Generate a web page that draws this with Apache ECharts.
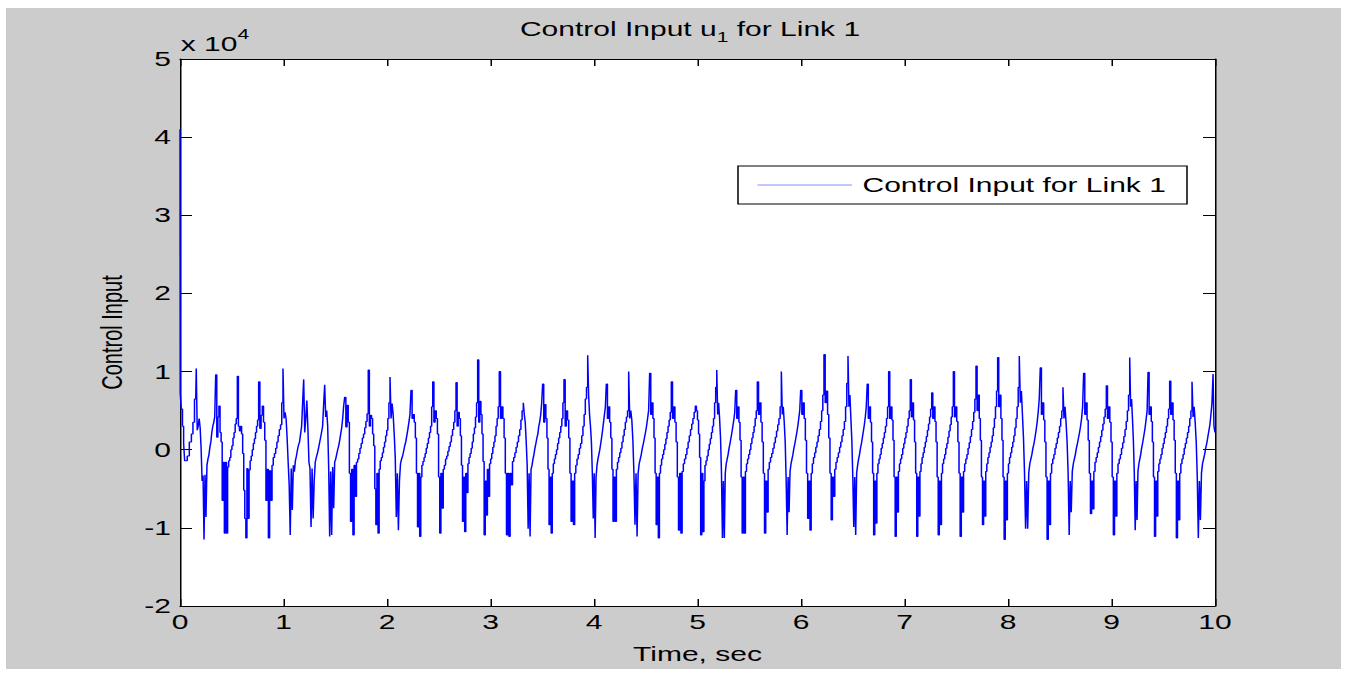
<!DOCTYPE html>
<html>
<head>
<meta charset="utf-8">
<script src="https://cdn.jsdelivr.net/npm/echarts@6/dist/echarts.min.js"></script>
<style>
  html, body { margin: 0; padding: 0; background: #fff; width: 1347px; height: 675px; overflow: hidden; }
  #frame { position: absolute; left: 6px; top: 8px; width: 1335px; height: 661px; background: #cccccc; }
  #chart { position: absolute; left: 0; top: 0; width: 898px; height: 675px; transform: scaleX(1.5); transform-origin: 0 0; }
</style>
</head>
<body>
<div id="frame"></div>
<div id="chart"></div>
<script>
// Control input u1 (units of 1e4) for link 1 over a 10 s run.
const xTickLabels = ['0', '1', '2', '3', '4', '5', '6', '7', '8', '9', '10'];
const yTickLabels = ['-2', '-1', '0', '1', '2', '3', '4', '5'];

// start-up transient before the first periodic spike
const headTimes  = [0, 0.002, 0.012, 0.024, 0.035, 0.045, 0.07, 0.09, 0.11, 0.125, 0.14, 0.152];
const headValues = [4.1, 0.73, 0.52, 0.30, 0.08, -0.14, -0.08, 0.10, 0.20, 0.35, 0.65, 0.65];

// time of the main positive spike opening each cycle (s)
const spikeTimes = [0.157, 0.345, 0.554, 0.760, 0.995, 1.195, 1.398, 1.591, 1.819, 2.029,
  2.232, 2.442, 2.667, 2.876, 3.085, 3.317, 3.504, 3.710, 3.939, 4.119,
  4.335, 4.538, 4.747, 4.979, 5.186, 5.369, 5.578, 5.810, 5.997, 6.222,
  6.454, 6.640, 6.847, 7.056, 7.263, 7.472, 7.691, 7.900, 8.109, 8.312,
  8.531, 8.731, 8.950, 9.176, 9.353, 9.562, 9.778, 9.981];

// held samples through each cycle, evenly spaced between consecutive spikes
const cycleRows = [
  [1.04,0.25,0.30,0.40,0.28,0.02,-0.40,-0.33,-1.15,-0.32,-0.86,-0.20,-0.12,-0.07,0.03,0.10,0.22,0.30,0.35,0.42],
  [0.96,0.16,0.42,0.56,0.22,0.10,-0.65,-0.16,-1.07,-0.16,-1.07,-0.22,-0.14,-0.10,0.00,0.05,0.15,0.22,0.33,0.40],
  [0.94,0.30,0.24,0.30,0.20,-0.05,-0.52,-0.88,-1.13,-0.24,-0.88,-0.26,-0.14,-0.08,0.00,0.08,0.14,0.22,0.30,0.38],
  [0.87,0.27,0.44,0.56,0.35,0.12,-0.65,-0.25,-1.13,-0.27,-0.65,-0.20,-0.10,-0.05,0.02,0.10,0.18,0.26,0.32,0.60],
  [1.04,0.40,0.48,0.40,0.15,-0.16,-0.45,-1.09,-0.24,-0.77,-0.20,-0.28,-0.14,-0.08,0.00,0.06,0.10,0.20,0.30,0.60],
  [0.90,0.22,0.40,0.63,0.28,-0.16,-0.24,-0.99,-0.24,-0.88,-0.40,-0.16,-0.10,-0.05,0.01,0.08,0.15,0.22,0.30,0.58],
  [0.83,0.42,0.50,0.30,-0.24,-1.11,-0.28,-1.09,-0.22,-0.75,-0.16,-0.12,-0.06,0.00,0.05,0.12,0.20,0.28,0.40,0.56],
  [0.67,0.29,0.57,0.35,-0.30,-0.92,-0.25,-1.09,-0.20,-0.60,-0.16,-0.12,-0.05,0.02,0.08,0.15,0.20,0.28,0.36,0.46],
  [1.02,0.30,0.44,0.40,0.20,0.05,-0.50,-0.96,-0.30,-1.07,-0.25,-0.14,-0.10,-0.04,0.03,0.10,0.18,0.25,0.40,0.60],
  [0.93,0.40,0.59,0.45,0.20,-0.10,-0.86,-0.30,-1.03,-0.40,-0.18,-0.12,-0.08,-0.02,0.05,0.10,0.18,0.26,0.35,0.45],
  [0.76,0.40,0.45,0.35,0.15,-0.30,-0.99,-0.30,-1.11,-0.35,-0.20,-0.15,-0.10,-0.05,0.02,0.08,0.15,0.22,0.30,0.55],
  [0.87,0.35,0.50,0.40,0.20,-0.35,-1.07,-0.30,-0.75,-0.25,-0.20,-0.12,-0.08,-0.02,0.04,0.10,0.18,0.26,0.35,0.50],
  [0.86,0.30,0.48,0.40,0.18,-0.20,-0.92,-0.35,-1.05,-0.30,-0.55,-0.18,-0.10,-0.05,0.02,0.10,0.20,0.28,0.42,0.60],
  [1.15,0.35,0.62,0.45,0.20,-0.15,-1.09,-0.40,-0.84,-0.25,-0.60,-0.18,-0.12,-0.05,0.03,0.10,0.18,0.30,0.40,0.55],
  [1.00,0.40,0.55,0.40,0.15,-0.30,-1.09,-0.30,-1.11,-0.30,-0.45,-0.15,-0.10,-0.04,0.03,0.10,0.18,0.26,0.38,0.50],
  [0.60,0.45,0.35,0.10,-0.20,-1.01,-0.30,-1.11,-0.25,-0.20,-0.12,-0.06,0.02,0.08,0.15,0.20,0.30,0.36,0.45,0.60],
  [0.84,0.35,0.58,0.40,0.15,-0.25,-0.96,-0.35,-1.07,-0.30,-0.18,-0.12,-0.06,0.00,0.08,0.15,0.22,0.30,0.40,0.60],
  [0.90,0.30,0.50,0.38,0.15,-0.30,-0.92,-0.40,-0.96,-0.30,-0.20,-0.12,-0.06,0.02,0.08,0.18,0.30,0.45,0.65,0.80],
  [1.21,0.70,0.45,0.30,0.10,-0.30,-0.88,-0.30,-1.13,-0.35,-0.20,-0.12,-0.06,0.00,0.08,0.16,0.25,0.35,0.45,0.55],
  [0.84,0.40,0.55,0.35,0.15,-0.25,-0.92,-0.35,-0.92,-0.25,-0.16,-0.10,-0.04,0.02,0.10,0.18,0.26,0.35,0.42,0.50],
  [1.00,0.40,0.50,0.38,0.12,-0.30,-0.96,-0.30,-1.11,-0.30,-0.18,-0.12,-0.06,0.02,0.08,0.15,0.22,0.30,0.40,0.50],
  [0.98,0.45,0.60,0.40,0.15,-0.30,-0.96,-0.35,-1.13,-0.30,-0.20,-0.12,-0.06,0.00,0.07,0.14,0.22,0.30,0.38,0.48],
  [0.87,0.40,0.55,0.35,0.10,-0.35,-1.03,-0.30,-1.07,-0.28,-0.18,-0.12,-0.06,0.02,0.10,0.18,0.26,0.33,0.40,0.48],
  [0.56,0.50,0.38,0.20,-0.10,-1.09,-0.30,-1.05,-0.40,-0.20,-0.14,-0.08,0.00,0.07,0.14,0.22,0.30,0.40,0.60,0.80],
  [1.02,0.45,0.60,0.40,0.15,-0.30,-1.13,-0.40,-1.13,-0.30,-0.18,-0.12,-0.06,0.02,0.08,0.15,0.22,0.30,0.38,0.48],
  [0.76,0.40,0.55,0.35,0.12,-0.35,-1.07,-0.35,-1.07,-0.28,-0.18,-0.12,-0.06,0.00,0.08,0.15,0.22,0.30,0.40,0.50],
  [0.87,0.45,0.60,0.35,0.10,-0.30,-1.07,-0.40,-0.80,-0.25,-0.16,-0.10,-0.05,0.02,0.09,0.16,0.24,0.32,0.40,0.55],
  [1.00,0.45,0.55,0.35,0.10,-0.40,-1.09,-0.35,-0.80,-0.28,-0.18,-0.12,-0.06,0.02,0.08,0.15,0.22,0.30,0.40,0.50],
  [0.76,0.45,0.60,0.40,0.12,-0.30,-0.88,-0.40,-1.03,-0.30,-0.18,-0.10,-0.04,0.03,0.10,0.18,0.26,0.36,0.50,0.70],
  [1.22,0.60,0.75,0.45,0.15,-0.30,-0.90,-0.35,-0.60,-0.25,-0.16,-0.10,-0.04,0.03,0.10,0.18,0.26,0.36,0.55,0.85],
  [1.20,0.55,0.70,0.40,0.12,-0.35,-0.99,-0.35,-1.09,-0.30,-0.20,-0.12,-0.06,0.02,0.08,0.16,0.24,0.32,0.42,0.55],
  [0.84,0.40,0.55,0.35,0.10,-0.30,-1.09,-0.40,-0.94,-0.30,-0.18,-0.12,-0.06,0.02,0.08,0.15,0.22,0.30,0.40,0.55],
  [1.00,0.40,0.55,0.38,0.12,-0.35,-1.11,-0.35,-0.80,-0.28,-0.18,-0.12,-0.06,0.02,0.08,0.15,0.22,0.30,0.40,0.50],
  [0.90,0.42,0.60,0.38,0.10,-0.30,-1.11,-0.35,-0.85,-0.28,-0.18,-0.10,-0.04,0.03,0.10,0.17,0.25,0.33,0.42,0.52],
  [0.73,0.40,0.55,0.36,0.10,-0.35,-1.09,-0.40,-0.96,-0.30,-0.18,-0.12,-0.06,0.02,0.08,0.16,0.24,0.32,0.42,0.55],
  [1.00,0.42,0.55,0.36,0.10,-0.30,-1.11,-0.35,-0.80,-0.28,-0.18,-0.12,-0.06,0.02,0.09,0.17,0.26,0.36,0.48,0.65],
  [1.07,0.50,0.70,0.40,0.12,-0.35,-0.96,-0.40,-0.85,-0.28,-0.18,-0.10,-0.04,0.03,0.10,0.18,0.28,0.40,0.55,0.75],
  [1.18,0.55,0.70,0.40,0.12,-0.35,-1.15,-0.40,-0.90,-0.30,-0.18,-0.10,-0.04,0.03,0.10,0.18,0.28,0.40,0.55,0.80],
  [1.20,0.60,0.75,0.45,0.15,-0.30,-1.01,-0.40,-1.01,-0.30,-0.18,-0.12,-0.06,0.02,0.08,0.16,0.25,0.35,0.48,0.65],
  [1.05,0.45,0.60,0.38,0.10,-0.35,-1.15,-0.40,-0.96,-0.30,-0.18,-0.12,-0.06,0.02,0.08,0.15,0.22,0.30,0.40,0.50],
  [0.80,0.40,0.55,0.35,0.10,-0.30,-1.09,-0.40,-0.80,-0.28,-0.18,-0.12,-0.06,0.02,0.08,0.15,0.22,0.30,0.40,0.55],
  [0.98,0.45,0.60,0.38,0.12,-0.30,-0.82,-0.40,-0.76,-0.28,-0.16,-0.10,-0.04,0.03,0.10,0.17,0.25,0.33,0.42,0.52],
  [0.82,0.40,0.55,0.35,0.10,-0.35,-1.09,-0.40,-0.85,-0.30,-0.18,-0.12,-0.06,0.02,0.09,0.17,0.26,0.36,0.50,0.70],
  [1.18,0.55,0.65,0.40,0.12,-0.30,-1.03,-0.40,-0.90,-0.28,-0.18,-0.12,-0.06,0.02,0.08,0.15,0.22,0.30,0.40,0.50],
  [0.99,0.45,0.55,0.36,0.10,-0.35,-1.11,-0.40,-0.85,-0.28,-0.18,-0.12,-0.06,0.02,0.08,0.15,0.22,0.30,0.40,0.52],
  [0.88,0.45,0.60,0.38,0.12,-0.30,-1.13,-0.40,-0.90,-0.30,-0.18,-0.12,-0.06,0.02,0.08,0.15,0.22,0.30,0.40,0.50],
  [0.87,0.42,0.55,0.35,0.10,-0.35,-1.13,-0.40,-0.90,-0.30,-0.18,-0.12,-0.06,0.02,0.08,0.16,0.24,0.32,0.45,0.60]
];

// last spike and the end of the run
const tailTimes  = [9.981, 9.99, 10.0];
const tailValues = [0.97, 0.30, 0.22];

const FONT = 'Liberation Sans, Arial, Helvetica, sans-serif';

const points = [];
headTimes.forEach((t, i) => points.push([t, headValues[i]]));
cycleRows.forEach((row, i) => {
  const t0 = spikeTimes[i], t1 = spikeTimes[i + 1];
  row.forEach((v, k) => points.push([t0 + (t1 - t0) * k / row.length, v]));
});
tailTimes.forEach((t, i) => points.push([t, tailValues[i]]));

const chart = echarts.init(document.getElementById('chart'), null, { renderer: 'svg', width: 898, height: 675 });

const axisBase = (extra) => Object.assign({
  type: 'value',
  splitLine: { show: false },
  axisLine: { show: true, onZero: false, lineStyle: { color: '#000', width: 1 } },
  axisTick: { show: true, inside: true, lineStyle: { color: '#000', width: 1 } }
}, extra);

chart.setOption({
  animation: false,
  backgroundColor: 'transparent',
  textStyle: { fontFamily: FONT },
  title: {
    text: '{a|Control Input u}{s|1}{a| for Link 1}',
    left: 455, top: 9, textAlign: 'center',
    textStyle: {
      fontWeight: 'normal',
      rich: {
        a: { fontFamily: FONT, fontSize: 20, fontWeight: 'normal', color: '#000', lineHeight: 30, verticalAlign: 'middle' },
        s: { fontFamily: FONT, fontSize: 14, fontWeight: 'normal', color: '#000', lineHeight: 14, verticalAlign: 'bottom' }
      }
    }
  },
  graphic: [{
    type: 'text', left: 120.5, top: 27,
    style: {
      text: '{a|x 10}{b|4}',
      rich: {
        a: { fontFamily: FONT, fontSize: 20, fill: '#000', lineHeight: 34, verticalAlign: 'middle' },
        b: { fontFamily: FONT, fontSize: 14, fill: '#000', lineHeight: 14, verticalAlign: 'top' }
      }
    }
  }],
  legend: {
    left: 492, top: 166,
    padding: [9, 14, 9, 13],
    itemGap: 0,
    itemWidth: 63, itemHeight: 1,
    backgroundColor: '#fff', borderColor: '#000', borderWidth: 1, borderRadius: 0,
    textStyle: { fontFamily: FONT, fontSize: 20, color: '#000', padding: [0, 0, 0, 2] },
    data: [{ name: 'Control Input for Link 1', icon: 'rect', itemStyle: { color: '#8c8cff' } }]
  },
  grid: { left: 120, right: 88, top: 59, bottom: 69, show: true, backgroundColor: '#fff', borderWidth: 0 },
  xAxis: [
    axisBase({
      min: 0, max: 10, interval: 1, position: 'bottom',
      axisTick: { show: true, inside: true, length: 7, lineStyle: { color: '#000' } },
      axisLabel: { fontFamily: FONT, fontSize: 20, color: '#000', margin: 6, formatter: (v) => xTickLabels[Math.round(v)] },
      name: 'Time, sec', nameLocation: 'middle', nameGap: 38,
      nameTextStyle: { fontFamily: FONT, fontSize: 20, color: '#000' }
    }),
    axisBase({
      min: 0, max: 10, interval: 1, position: 'top',
      axisTick: { show: true, inside: true, length: 7, lineStyle: { color: '#000' } },
      axisLabel: { show: false }
    })
  ],
  yAxis: [
    axisBase({
      min: -2, max: 5, interval: 1, position: 'left',
      axisTick: { show: true, inside: true, length: 8, lineStyle: { color: '#000' } },
      axisLabel: { fontFamily: FONT, fontSize: 20, color: '#000', margin: 6, formatter: (v) => yTickLabels[Math.round(v) + 2] },
      name: 'Control Input', nameLocation: 'middle', nameGap: 36, nameRotate: 90,
      nameTextStyle: { fontFamily: FONT, fontSize: 20, color: '#000' }
    }),
    axisBase({
      min: -2, max: 5, interval: 1, position: 'right',
      axisTick: { show: true, inside: true, length: 8, lineStyle: { color: '#000' } },
      axisLabel: { show: false }
    })
  ],
  series: [{
    name: 'Control Input for Link 1',
    type: 'line',
    step: 'end',
    xAxisIndex: 0, yAxisIndex: 0,
    data: points,
    symbol: 'none', showSymbol: false,
    lineStyle: { color: '#0000ff', width: 1 },
    itemStyle: { color: '#0000ff' },
    z: 3
  }]
});
</script>
</body>
</html>
